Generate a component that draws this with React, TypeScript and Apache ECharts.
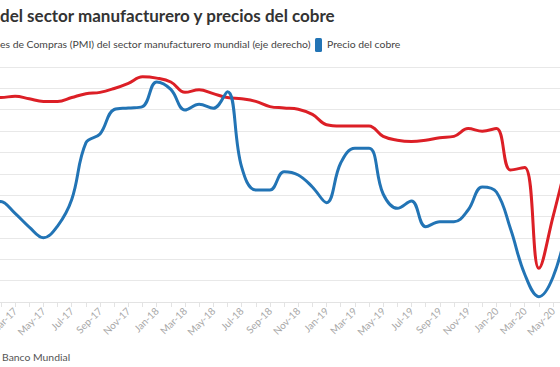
import React, { useEffect, useRef } from "react";
import * as echarts from "echarts";

const months = [
  "Jan-17", "Feb-17", "Mar-17", "Apr-17", "May-17", "Jun-17", "Jul-17", "Aug-17", "Sep-17", "Oct-17", "Nov-17", "Dec-17",
  "Jan-18", "Feb-18", "Mar-18", "Apr-18", "May-18", "Jun-18", "Jul-18", "Aug-18", "Sep-18", "Oct-18", "Nov-18", "Dec-18",
  "Jan-19", "Feb-19", "Mar-19", "Apr-19", "May-19", "Jun-19", "Jul-19", "Aug-19", "Sep-19", "Oct-19", "Nov-19", "Dec-19",
  "Jan-20", "Feb-20", "Mar-20", "Apr-20", "May-20", "Jun-20",
];

const pmi = [
  52.8, 52.8, 52.9, 52.7, 52.5, 52.5, 52.8, 53.1, 53.2, 53.5, 53.9, 54.4,
  54.3, 54.0, 53.2, 53.4, 53.1, 52.8, 52.7, 52.5, 52.1, 52.0, 51.9, 51.5,
  50.7, 50.6, 50.6, 50.6, 49.8, 49.5, 49.4, 49.5, 49.7, 49.8, 50.4, 50.2,
  50.4, 47.2, 47.4, 39.6, 43.6, 48.0,
];

const copper = [
  5745, 5941, 5830, 5702, 5602, 5711, 5960, 6489, 6573, 6802, 6816, 6830,
  7060, 6990, 6797, 6851, 6813, 6969, 6265, 6049, 6049, 6220, 6189, 6077,
  5930, 6301, 6439, 6439, 6011, 5877, 5946, 5705, 5752, 5752, 5861, 6077,
  6030, 5683, 5260, 5050, 5234, 5711,
];

const titleText = "del sector manufacturero y precios del cobre";
const pmiLegend = "es de Compras (PMI) del sector manufacturero mundial (eje derecho)";
const copperLegend = "Precio del cobre";
const sourceText = "Banco Mundial";

const RED = "#dc1f26";
const BLUE = "#2274b5";
const FONT = "Lato, 'Open Sans', sans-serif";

// the chart canvas is wider than the visible window and shifted left
const OFFSET = 40;
const CHART_W = 620;

export default function App() {
  const ref = useRef<HTMLDivElement>(null);
  useEffect(() => {
    if (!ref.current) return;
    const chart = echarts.init(ref.current, undefined, { renderer: "svg" });
    chart.setOption({
      animation: false,
      backgroundColor: "#ffffff",
      textStyle: { fontFamily: FONT },
      grid: { left: 12.7, right: 12.8, top: 67, bottom: 65, containLabel: false },
      xAxis: {
        type: "category",
        data: months,
        boundaryGap: false,
        axisLine: { show: true, lineStyle: { color: "#e3e3e3", width: 1 } },
        axisTick: { show: true, interval: 0, length: 5, lineStyle: { color: "#e3e3e3" } },
        axisLabel: { interval: 1, rotate: 45, color: "#a8a8a8", fontSize: 10, margin: 7, fontFamily: FONT },
        splitLine: { show: false },
      },
      yAxis: [
        {
          type: "value",
          min: 5000,
          max: 7200,
          interval: 200,
          axisLabel: { show: false },
          axisLine: { show: false },
          axisTick: { show: false },
          splitLine: { show: true, lineStyle: { color: "#e8e8e8", width: 1 } },
        },
        {
          type: "value",
          min: 37,
          max: 55.16,
          axisLabel: { show: false },
          axisLine: { show: false },
          axisTick: { show: false },
          splitLine: { show: false },
        },
      ],
      series: [
        {
          name: "PMI",
          type: "line",
          yAxisIndex: 1,
          data: pmi,
          smooth: 0.4,
          showSymbol: false,
          lineStyle: { color: RED, width: 3 },
          itemStyle: { color: RED },
        },
        {
          name: copperLegend,
          type: "line",
          yAxisIndex: 0,
          data: copper,
          smooth: 0.4,
          showSymbol: false,
          lineStyle: { color: BLUE, width: 3 },
          itemStyle: { color: BLUE },
        },
      ],
      graphic: [
        {
          type: "text",
          x: OFFSET + 0,
          y: 7,
          style: { text: titleText, font: `bold 17px ${FONT}`, fill: "#333333" },
        },
        {
          type: "text",
          x: OFFSET + 0,
          y: 39,
          style: { text: pmiLegend, font: `10.4px ${FONT}`, fill: "#444444" },
        },
        {
          type: "rect",
          shape: { x: OFFSET + 315, y: 38, width: 7, height: 14, r: 1.5 },
          style: { fill: BLUE },
        },
        {
          type: "text",
          x: OFFSET + 327,
          y: 39,
          style: { text: copperLegend, font: `10.4px ${FONT}`, fill: "#444444" },
        },
        {
          type: "text",
          x: OFFSET + 2,
          y: 352,
          style: { text: sourceText, font: `10.4px ${FONT}`, fill: "#555555" },
        },
      ],
    });
    return () => chart.dispose();
  }, []);
  return (
    <div
      style={{ position: "absolute", left: 0, top: 0, width: 560, height: 367, overflow: "hidden", background: "#fff" }}
    >
      <div
        ref={ref}
        style={{ position: "absolute", left: -OFFSET, top: 0, width: CHART_W, height: 367 }}
      />
    </div>
  );
}
